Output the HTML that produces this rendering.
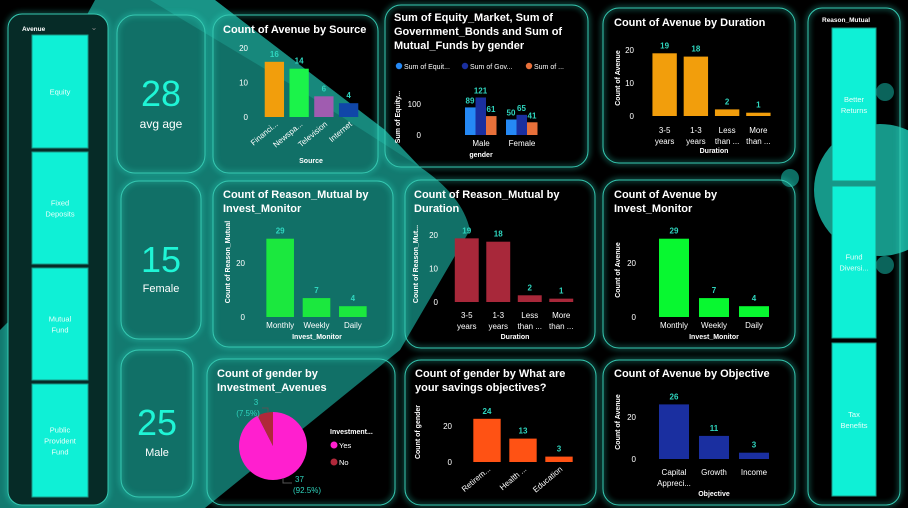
<!DOCTYPE html>
<html><head><meta charset="utf-8">
<style>
html,body{margin:0;padding:0;background:#000;width:908px;height:508px;overflow:hidden}
svg{display:block;font-family:"Liberation Sans",sans-serif}
</style></head>
<body>
<svg id="dash" width="908" height="508" viewBox="0 0 908 508">
<defs>
<filter id="glow" x="-20%" y="-20%" width="140%" height="140%"><feGaussianBlur stdDeviation="3"/></filter>
</defs>
<rect width="908" height="508" fill="#000"/>
<path d="M95,0 L215,0 L385,130 L420,167 Q462,195 470,230 L400,350 L205,508 L0,508 L0,330 L30,300 L30,120 Z" fill="#137a70"/>
<path d="M150,0 L215,0 L385,130 L420,167 L300,90 Z" fill="#1ea596" opacity="0.6"/>
<circle cx="880" cy="190" r="66" fill="#18a595"/>
<circle cx="790" cy="178" r="9" fill="#0d6d63"/>
<circle cx="885" cy="92" r="9" fill="#0d6d63"/>
<circle cx="885" cy="265" r="9" fill="#0d6d63"/>
<g id="cards"></g>
<g id="content"></g>
</svg>
<script>
// ---- data ----
const sourceCats=["Financi...","Newspa...","Television","Internet"];
const sourceVals=[16,14,6,4];
const sourceTicks=[0,10,20];
const genderCats=["Male","Female"];
const equityVals=[89,50];
const govVals=[121,65];
const mutualVals=[61,41];
const sumTicks=[0,100];
const durationCats=[["3-5","years"],["1-3","years"],["Less","than ..."],["More","than ..."]];
const avenueDurVals=[19,18,2,1];
const durTicks=[0,10,20];
const monitorCats=["Monthly","Weekly","Daily"];
const reasonMonitorVals=[29,7,4];
const monitorTicks=[0,20];
const reasonDurVals=[19,18,2,1];
const avenueMonitorVals=[29,7,4];
const savingsCats=["Retirem...","Health ...","Education"];
const savingsVals=[24,13,3];
const savingsTicks=[0,20];
const objectiveCats=[["Capital","Appreci..."],["Growth"],["Income"]];
const objectiveVals=[26,11,3];
const objectiveTicks=[0,20];
const pieCats=["Yes","No"];
const pieVals=[37,3];
const srcColors=['#f29e0c','#1bf34a','#a05cb0','#1046a8'];

const NS="http://www.w3.org/2000/svg";
const cards=document.getElementById('cards');
const content=document.getElementById('content');
function mk(tag,attrs,parent,txt){const e=document.createElementNS(NS,tag);for(const k in attrs)e.setAttribute(k,attrs[k]);if(txt!==undefined)e.textContent=txt;(parent||content).appendChild(e);return e;}

function card(x,y,w,h,name,r,fill){
  const glow=mk('rect',{x:x,y:y,width:w,height:h,rx:r||16,fill:'none',stroke:'#2ee6cc','stroke-width':3,opacity:0.5,filter:'url(#glow)'},cards);
  
  
  const c=mk('rect',{x:x,y:y,width:w,height:h,rx:r||16,fill:fill||'rgba(0,0,0,0.08)',stroke:'#36c9b2','stroke-width':1},cards);
  
  
}
function title(x,y,lines,name){
  lines.forEach((l,i)=>{const t=mk('text',{x:x,y:y+i*14,fill:'#fff','font-size':11,'font-weight':'bold'},content,l);
  
  });
}
function txt(x,y,s,opt,name){const t=mk('text',Object.assign({x:x,y:y,fill:'#fff','font-size':8,'text-anchor':'middle'},opt||{}),content,s);
  
  return t;}

function barChart(cfg){
  const ys=v=>cfg.y0-v*(cfg.y0-cfg.yTop)/cfg.tTop;
  cfg.ticks.forEach(t=>txt(cfg.tickX,ys(t)+3,String(t),{'text-anchor':'end'},'y-tick-label'));
  const n=cfg.vals.length;
  const step=(cfg.x1-cfg.x0)/n;
  const bw=step*cfg.bwf;
  cfg.vals.forEach((v,i)=>{
    const cx=cfg.x0+step*i+step/2;
    const b=mk('rect',{x:cx-bw/2,y:ys(v),width:bw,height:Math.max(ys(0)-ys(v),0.5),fill:cfg.colors?cfg.colors[i]:cfg.color});
    
    
    txt(cx,ys(v)-5,String(v),{fill:'#2fd6bf','font-weight':'bold'},'data-label');
    const c=cfg.cats[i];
    if(cfg.rot){
      txt(cx+4,ys(0)+8,c,{'text-anchor':'end',transform:`rotate(-40 ${cx+4} ${ys(0)+8})`},'x-tick-label');
    } else {
      (Array.isArray(c)?c:[c]).forEach((s,j)=>txt(cx,cfg.labY+j*11,s,{},'x-tick-label'));
    }
  });
  if(cfg.axTitle) txt(cfg.axX,cfg.axY,cfg.axTitle,{'font-size':7,'font-weight':'bold'},'x-axis-title');
  if(cfg.yTitle) txt(cfg.yTX,cfg.yTY,cfg.yTitle,{'font-size':7,'font-weight':'bold',transform:`rotate(-90 ${cfg.yTX} ${cfg.yTY})`},'y-axis-title');
}

// ---- cards ----
card(8,14,100,491,'avenue-slicer',14,'#062b27');
card(117,15,88,158,'kpi-avg-age',18);
card(121,181,80,158,'kpi-female',18);
card(121,350,72,147,'kpi-male',18);
card(213,15,165,158,'card-source');
card(385,5,203,162,'card-sum-gender');
card(603,8,192,155,'card-duration');
card(213,181,180,166,'card-reason-monitor');
card(405,180,190,168,'card-reason-duration');
card(603,180,192,168,'card-avenue-monitor');
card(207,359,188,146,'card-pie');
card(405,360,191,145,'card-savings');
card(603,360,192,145,'card-objective');
card(808,8,92,497,'reason-slicer',14);

// ---- slicers ----
txt(22,31,'Avenue',{'font-size':6.5,'font-weight':'bold','text-anchor':'start'},'slicer-title');
txt(94,30,'⌄',{'font-size':8,fill:'#888'},'slicer-dropdown');
[[35,148,['Equity']],[152,264,['Fixed','Deposits']],[268,380,['Mutual','Fund']],[384,497,['Public','Provident','Fund']]].forEach(b=>{
  const r=mk('rect',{x:32,y:b[0],width:56,height:b[1]-b[0],fill:'#0ff0d6',stroke:'#1a9a88','stroke-width':1});
  
  
  const mid=(b[0]+b[1])/2-(b[2].length-1)*5.5+3;
  b[2].forEach((s,j)=>txt(60,mid+j*11,s,{'font-size':7.5,fill:'#e8fffb'},'avenue-option-label'));
});
txt(822,22,'Reason_Mutual',{'font-size':6.5,'font-weight':'bold','text-anchor':'start'},'slicer-title');
[[28,181,['Better','Returns']],[186,338,['Fund','Diversi...']],[343,496,['Tax','Benefits']]].forEach(b=>{
  const r=mk('rect',{x:832,y:b[0],width:44,height:b[1]-b[0],fill:'#0ff0d6',stroke:'#1a9a88','stroke-width':1});
  
  
  const mid=(b[0]+b[1])/2-(b[2].length-1)*5.5+3;
  b[2].forEach((s,j)=>txt(854,mid+j*11,s,{'font-size':7.5,fill:'#e8fffb'},'reason-option-label'));
});

// ---- KPIs ----
txt(161,106,'28',{'font-size':36,fill:'#1ff5d6'},'kpi-value');
txt(161,128,'avg age',{'font-size':12},'kpi-label');
txt(161,272,'15',{'font-size':36,fill:'#1ff5d6'},'kpi-value');
txt(161,292,'Female',{'font-size':11},'kpi-label');
txt(157,435,'25',{'font-size':36,fill:'#1ff5d6'},'kpi-value');
txt(157,456,'Male',{'font-size':11},'kpi-label');

// ---- Source ----
title(223,33,['Count of Avenue by Source'],'chart-title');
barChart({vals:sourceVals,cats:sourceCats,ticks:sourceTicks,y0:117,yTop:48,tTop:20,tickX:248,x0:262,x1:361,bwf:0.78,colors:srcColors,rot:true,axTitle:'Source',axX:311,axY:163});
// ---- Sum by gender ----
title(394,21,['Sum of Equity_Market, Sum of','Government_Bonds and Sum of','Mutual_Funds by gender'],'chart-title');
[['#2589f5','Sum of Equit...',396],['#1a2fa0','Sum of Gov...',462],['#e8703a','Sum of ...',526]].forEach(l=>{
  const c=mk('circle',{cx:l[2]+3,cy:66,r:3.2,fill:l[0]});
  txt(l[2]+8,69,l[1],{'font-size':7,'text-anchor':'start'},'legend-entry');
});
{
  const y0=135,yTop=104,tTop=100;const ys=v=>y0-v*(y0-yTop)/tTop;
  sumTicks.forEach(t=>txt(421,ys(t)+3,String(t),{'text-anchor':'end'},'y-tick-label'));
  const series=[equityVals,govVals,mutualVals];const cols=['#2589f5','#1a2fa0','#e8703a'];
  genderCats.forEach((g,gi)=>{
    const gx=465+gi*41;
    series.forEach((s,si)=>{
      const v=s[gi];
      const b=mk('rect',{x:gx+si*10.5,y:ys(v),width:10.5,height:ys(0)-ys(v),fill:cols[si]});
      
      
      txt(gx+si*10.5+5,ys(v)-4,String(v),{fill:'#2fd6bf','font-weight':'bold'},'data-label');
    });
    txt(gx+16,146,g,{},'x-tick-label');
  });
  txt(481,157,'gender',{'font-size':7,'font-weight':'bold'},'x-axis-title');
  txt(400,117,'Sum of Equity...',{'font-size':7,'font-weight':'bold',transform:'rotate(-90 400 117)'},'y-axis-title');
}
// ---- Duration ----
title(614,26,['Count of Avenue by Duration'],'chart-title');
barChart({vals:avenueDurVals,cats:durationCats,ticks:durTicks,y0:116,yTop:50,tTop:20,tickX:634,x0:649,x1:774,bwf:0.78,color:'#f29e0c',labY:133,axTitle:'Duration',axX:714,axY:153,yTitle:'Count of Avenue',yTX:620,yTY:78});
// ---- Reason by monitor ----
title(223,198,['Count of Reason_Mutual by','Invest_Monitor'],'chart-title');
barChart({vals:reasonMonitorVals,cats:monitorCats,ticks:monitorTicks,y0:317,yTop:263,tTop:20,tickX:245,x0:262,x1:371,bwf:0.76,color:'#1be83e',labY:328,axTitle:'Invest_Monitor',axX:317,axY:339,yTitle:'Count of Reason_Mutual',yTX:230,yTY:262});
// ---- Reason by duration ----
title(414,198,['Count of Reason_Mutual by','Duration'],'chart-title');
barChart({vals:reasonDurVals,cats:durationCats,ticks:durTicks,y0:302,yTop:235,tTop:20,tickX:438,x0:451,x1:577,bwf:0.76,color:'#a8283a',labY:318,axTitle:'Duration',axX:515,axY:339,yTitle:'Count of Reason_Mut...',yTX:418,yTY:264});
// ---- Avenue by monitor ----
title(614,198,['Count of Avenue by','Invest_Monitor'],'chart-title');
barChart({vals:avenueMonitorVals,cats:monitorCats,ticks:monitorTicks,y0:317,yTop:263,tTop:20,tickX:636,x0:654,x1:774,bwf:0.75,color:'#08f830',labY:328,axTitle:'Invest_Monitor',axX:714,axY:339,yTitle:'Count of Avenue',yTX:620,yTY:270});
// ---- Pie ----
title(217,377,['Count of gender by','Investment_Avenues'],'chart-title');
{
  const cx=273,cy=446,r=34;const total=pieVals.reduce((a,b)=>a+b,0);const cols=['#ff1fcf','#b0283a'];
  let a0=-Math.PI/2;
  pieVals.forEach((v,i)=>{
    const a1=a0+v/total*2*Math.PI;
    const large=(a1-a0)>Math.PI?1:0;
    const p=mk('path',{d:`M${cx},${cy} L${cx+r*Math.cos(a0)},${cy+r*Math.sin(a0)} A${r},${r} 0 ${large} 1 ${cx+r*Math.cos(a1)},${cy+r*Math.sin(a1)} Z`,fill:cols[i]});
    
    
    a0=a1;
  });
  txt(256,405,String(pieVals[1]),{fill:'#2fd6bf'},'data-label');
  txt(248,416,'('+(pieVals[1]/total*100).toFixed(1)+'%)',{fill:'#2fd6bf'},'data-label');
  txt(295,482,String(pieVals[0]),{fill:'#2fd6bf','text-anchor':'start'},'data-label');
  txt(293,493,'('+(pieVals[0]/total*100).toFixed(1)+'%)',{fill:'#2fd6bf','text-anchor':'start'},'data-label');
  mk('path',{d:'M262,408 L268,408 L268,413',stroke:'#555',fill:'none'});
  mk('path',{d:'M283,478 L283,483 L292,483',stroke:'#555',fill:'none'});
  txt(330,434,'Investment...',{'font-size':7,'font-weight':'bold','text-anchor':'start'},'legend-title');
  pieCats.forEach((c,i)=>{
    const m=mk('circle',{cx:334,cy:445+i*17,r:3.5,fill:cols[i]});
    txt(339,448+i*17,c,{'font-size':7.5,'text-anchor':'start'},'legend-entry');
  });
}
// ---- Savings ----
title(415,377,['Count of gender by What are','your savings objectives?'],'chart-title');
barChart({vals:savingsVals,cats:savingsCats,ticks:savingsTicks,y0:462,yTop:426,tTop:20,tickX:452,x0:469,x1:577,bwf:0.76,color:'#ff5214',rot:true,yTitle:'Count of gender',yTX:420,yTY:432});
// ---- Objective ----
title(614,377,['Count of Avenue by Objective'],'chart-title');
barChart({vals:objectiveVals,cats:objectiveCats,ticks:objectiveTicks,y0:459,yTop:417,tTop:20,tickX:636,x0:654,x1:774,bwf:0.75,color:'#1a2fa0',labY:475,axTitle:'Objective',axX:714,axY:496,yTitle:'Count of Avenue',yTX:620,yTY:422});
</script>
</body></html>
